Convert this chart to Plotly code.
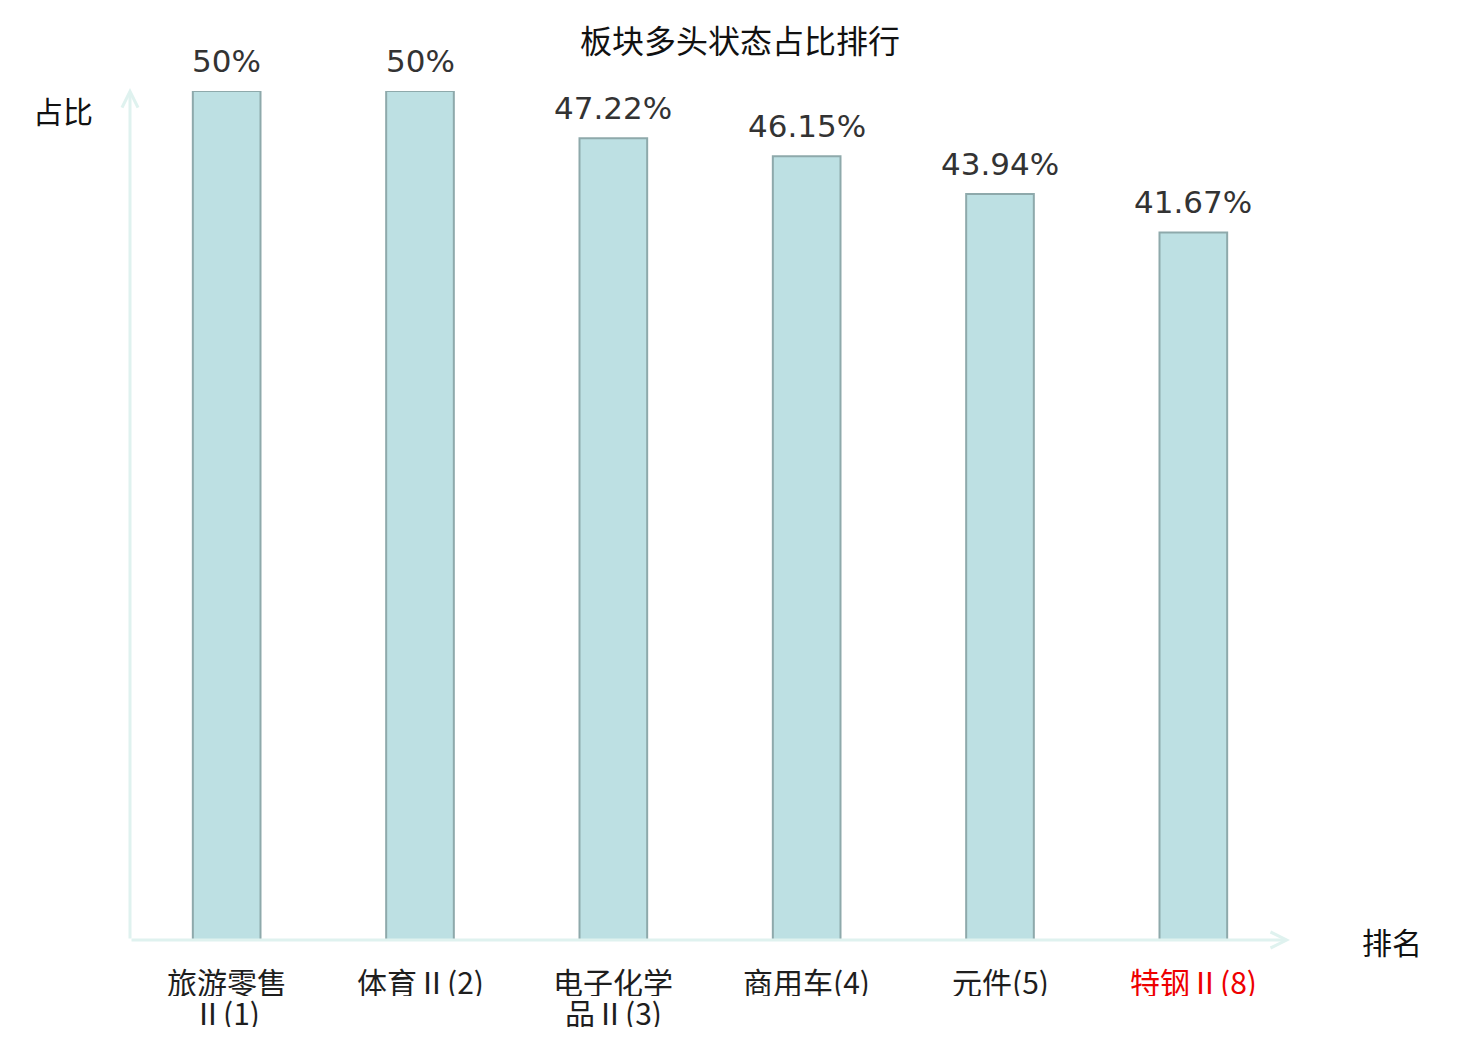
import plotly.graph_objects as go

categories = ["旅游零售Ⅱ(1)", "体育Ⅱ(2)", "电子化学品Ⅱ(3)", "商用车(4)", "元件(5)", "特钢Ⅱ(8)"]
tick_labels = ["旅游零售<br>Ⅱ(1)", "体育Ⅱ(2)", "电子化学<br>品Ⅱ(3)", "商用车(4)", "元件(5)", "特钢Ⅱ(8)"]
values = [50, 50, 47.22, 46.15, 43.94, 41.67]
value_labels = ["50%", "50%", "47.22%", "46.15%", "43.94%", "41.67%"]
highlight = [False, False, False, False, False, True]

# page body has an 8px margin: figure is drawn at (8, 8)
OFF = 8
W, H = 1480 - 2 * OFF, 1040 - 2 * OFF
L = 130 - OFF
T = 91 - OFF
R = W - (1290 - OFF)
B = H - (940 - OFF)
plot_w = W - L - R
plot_h = H - T - B

fig = go.Figure()
fig.add_trace(go.Bar(
    x=categories, y=values,
    marker=dict(color="#bde0e3", line=dict(color="#8ea9ab", width=2)),
    hoverinfo="skip",
))

# value labels above bars
for c, v, lab in zip(categories, values, value_labels):
    fig.add_annotation(
        x=c, y=v, xref="x", yref="y", text=lab, showarrow=False,
        yanchor="bottom", yshift=10,
        font=dict(family="DejaVu Sans", size=31, color="#333333"),
    )

# category labels below the axis (one annotation per line, tight spacing)
LINE = 31
for c, t, h in zip(categories, tick_labels, highlight):
    for i, line in enumerate(t.split("<br>")):
        fig.add_annotation(
            x=c, y=0, xref="x", yref="y", text=line, showarrow=False,
            xanchor="center", yanchor="middle", yshift=-40 - LINE * i,
            height=LINE, borderpad=0, valign="middle",
            font=dict(family="Noto Sans CJK SC", size=30,
                      color="#ee0000" if h else "#1e1e1e"),
        )

axis_color = "#dff2ef"
# y axis arrow
fig.add_annotation(
    xref="x domain", yref="y domain", axref="x domain", ayref="y domain",
    x=0, y=1 + 3 / plot_h, ax=0, ay=0, text="", showarrow=True,
    arrowhead=5, arrowwidth=3, arrowsize=1.05, arrowcolor=axis_color, standoff=0,
)
# x axis arrow
fig.add_annotation(
    xref="x domain", yref="y domain", axref="x domain", ayref="y domain",
    x=1, y=0, ax=0, ay=0, text="", showarrow=True,
    arrowhead=5, arrowwidth=3, arrowsize=1.05, arrowcolor=axis_color, standoff=0,
)

fig.add_annotation(
    xref="paper", yref="paper",
    x=(63 - OFF - L) / plot_w, y=(H - B - (110 - OFF)) / plot_h,
    text="占比", showarrow=False, xanchor="center", yanchor="middle",
    font=dict(family="Noto Sans CJK SC", size=30, color="#111111"),
)
fig.add_annotation(
    xref="paper", yref="paper",
    x=(1392 - OFF - L) / plot_w, y=(H - B - (941 - OFF)) / plot_h,
    text="排名", showarrow=False, xanchor="center", yanchor="middle",
    font=dict(family="Noto Sans CJK SC", size=30, color="#111111"),
)

fig.update_layout(
    width=W, height=H,
    margin=dict(l=L, r=R, t=T, b=B, pad=0),
    paper_bgcolor="white", plot_bgcolor="white",
    showlegend=False,
    bargap=0.65,
    title=dict(
        text="板块多头状态占比排行", x=0.5, xanchor="center",
        y=1 - (42 - OFF) / H, yanchor="middle",
        font=dict(family="Noto Sans CJK SC", size=32, color="#111111"),
    ),
    xaxis=dict(
        showticklabels=False, showline=False, showgrid=False, zeroline=False,
        ticks="", fixedrange=True,
    ),
    yaxis=dict(
        range=[0, 50], visible=False, showgrid=False, zeroline=False, fixedrange=True,
    ),
)

fig.write_html("out.html")
